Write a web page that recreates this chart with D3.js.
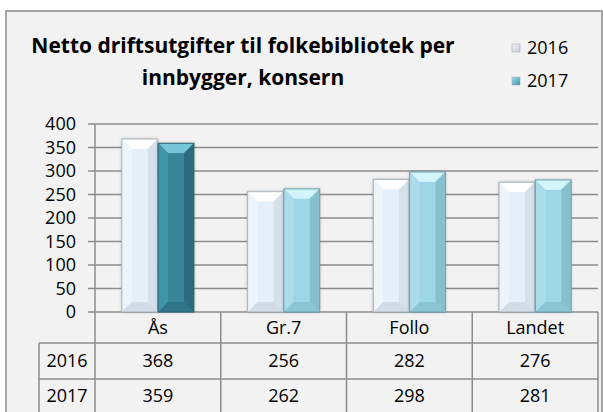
<!DOCTYPE html>
<html><head><meta charset="utf-8">
<script src="https://cdn.jsdelivr.net/npm/d3@7"></script>
<style>html,body{margin:0;padding:0;background:#fff}svg{display:block}text{font-family:"Open Sans",sans-serif;fill:#000}</style>
</head><body><svg id="c" width="603" height="412"></svg>
<script>
const categories = ["Ås", "Gr.7", "Follo", "Landet"];
const years = ["2016", "2017"];
const values2016 = [368, 256, 282, 276];
const values2017 = [359, 262, 298, 281];
const yTicks = [0, 50, 100, 150, 200, 250, 300, 350, 400];
const titleLines = ["Netto driftsutgifter til folkebibliotek per", "innbygger, konsern"];

const series = [values2016, values2017];
const svg = d3.select("#c");
const defs = svg.append("defs");
const f = defs.append("filter").attr("id","sh").attr("x","-20%").attr("y","-10%").attr("width","140%").attr("height","120%");
f.append("feDropShadow").attr("dx",0).attr("dy",0).attr("stdDeviation",1.6).attr("flood-color","#000").attr("flood-opacity",0.35);

// chart area
svg.append("rect").attr("x",6).attr("y",11).attr("width",596).attr("height",410)
  .attr("fill","#f2f2f2").attr("stroke","#8a8a8a").attr("stroke-width",1.5);

const x = d3.scaleBand().domain(categories).range([95, 598]);
const x1 = d3.scaleBand().domain(years).range([0, x.bandwidth()]).paddingInner(0.014).paddingOuter(0.74);
const y = d3.scaleLinear().domain([0, 400]).range([312, 124]);

const gridCol = "#8c8c8c";
// gridlines
svg.append("g").selectAll("line").data(yTicks).join("line")
  .attr("x1",88).attr("x2",598).attr("y1",d=>y(d)).attr("y2",d=>y(d))
  .attr("stroke",gridCol).attr("stroke-width",1.5);
// y axis
svg.append("line").attr("x1",95).attr("x2",95).attr("y1",y(400)).attr("y2",420).attr("stroke",gridCol).attr("stroke-width",1.5);
svg.append("g").selectAll("text").data(yTicks).join("text")
  .attr("x",76).attr("y",d=>y(d)).attr("dy","0.35em").attr("text-anchor","end")
  .attr("font-size",18).text(d=>d);

// table lines
const rowLines = [343, 379];
categories.forEach(c => {
  svg.append("line").attr("x1",x(c)+x.bandwidth()).attr("x2",x(c)+x.bandwidth()).attr("y1",312).attr("y2",420).attr("stroke",gridCol).attr("stroke-width",1.5);
});
rowLines.forEach(r => svg.append("line").attr("x1",39).attr("x2",598).attr("y1",r).attr("y2",r).attr("stroke",gridCol).attr("stroke-width",1.5));
svg.append("line").attr("x1",39).attr("x2",39).attr("y1",343).attr("y2",420).attr("stroke",gridCol).attr("stroke-width",1.5);

// table text
svg.append("g").selectAll("text").data(categories).join("text")
  .attr("x",d=>x(d)+x.bandwidth()/2).attr("y",328).attr("dy","0.35em").attr("text-anchor","middle")
  .attr("font-size",18).text(d=>d);
const rowY = [361, 396];
years.forEach((yr,i) => {
  svg.append("text").attr("x",67).attr("y",rowY[i]).attr("dy","0.35em").attr("text-anchor","middle").attr("font-size",18).text(yr);
  svg.append("g").selectAll("text").data(series[i]).join("text")
    .attr("x",(d,j)=>x(categories[j])+x.bandwidth()/2).attr("y",rowY[i]).attr("dy","0.35em").attr("text-anchor","middle")
    .attr("font-size",18).text(d=>d);
});

// bar palettes
const pal2016 = {face:"#e5eff9", top:"#ffffff", left:"#eef4fb", right:"#d6e0ea", bottom:"#d2dce6", line:"#aab5c0"};
const palDark = {face:"#378799", top:"#74c6d8", left:"#4096a9", right:"#2a6c7c", bottom:"#2e7686", line:"#2a6676"};
const palLight = {face:"#9dd7e5", top:"#d2f4fb", left:"#a9dde9", right:"#86bfcd", bottom:"#8bc4d2", line:"#6fa3b0"};

function drawBar(g, x0, w, yTop, yBot, p){
  const x1b = x0 + w, b = Math.min(10, (yBot-yTop)/2);
  const gg = g.append("g");
  gg.append("rect").attr("x",x0).attr("y",yTop).attr("width",w).attr("height",yBot-yTop).attr("fill",p.face).attr("filter","url(#sh)");
  const poly = pts => gg.append("polygon").attr("points",pts.map(q=>q.join(",")).join(" "));
  poly([[x0,yTop],[x1b,yTop],[x1b-b,yTop+b],[x0+b,yTop+b]]).attr("fill",p.top);
  poly([[x0,yTop],[x0+b,yTop+b],[x0+b,yBot-b],[x0,yBot]]).attr("fill",p.left);
  poly([[x1b,yTop],[x1b-b,yTop+b],[x1b-b,yBot-b],[x1b,yBot]]).attr("fill",p.right);
  poly([[x0,yBot],[x0+b,yBot-b],[x1b-b,yBot-b],[x1b,yBot]]).attr("fill",p.bottom);
  gg.append("rect").attr("x",x0+b).attr("y",yTop+b).attr("width",w-2*b).attr("height",yBot-yTop-2*b).attr("fill",p.face);
  gg.append("rect").attr("x",x0).attr("y",yTop).attr("width",w).attr("height",yBot-yTop).attr("fill","none").attr("stroke",p.line).attr("stroke-width",1);
}
const bars = svg.append("g");
categories.forEach((c,j) => {
  years.forEach((yr,i) => {
    const v = series[i][j];
    const p = i === 0 ? pal2016 : (j === 0 ? palDark : palLight);
    drawBar(bars, x(c)+x1(yr), x1.bandwidth(), y(v), y(0), p);
  });
});

// title
svg.append("g").selectAll("text").data(titleLines).join("text")
  .attr("x",243).attr("y",(d,i)=>46+i*32).attr("dy","0.35em").attr("text-anchor","middle")
  .attr("font-size",21).attr("font-weight","bold").text(d=>d);

// legend
const lgGrad = [["#f4f6f8","#c5ccd4"],["#9fdcea","#3e95ab"]];
years.forEach((yr,i) => {
  const gid = "lg"+i;
  const gr = defs.append("linearGradient").attr("id",gid).attr("x1",0).attr("y1",0).attr("x2",1).attr("y2",1);
  gr.append("stop").attr("offset",0).attr("stop-color",lgGrad[i][0]);
  gr.append("stop").attr("offset",1).attr("stop-color",lgGrad[i][1]);
  const ly = [48, 81][i];
  svg.append("rect").attr("x",512).attr("y",ly-4).attr("width",8).attr("height",8).attr("fill",`url(#${gid})`).attr("stroke","#9aa5ae").attr("stroke-width",0.5);
  svg.append("text").attr("x",527).attr("y",ly).attr("dy","0.35em").attr("font-size",18).text(yr);
});
</script></body></html>
